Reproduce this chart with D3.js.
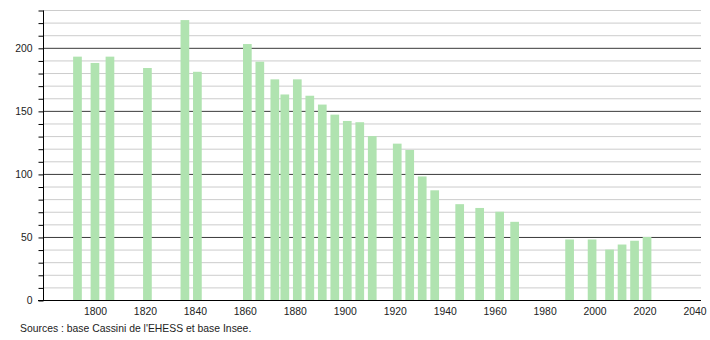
<!DOCTYPE html>
<html>
<head>
<meta charset="utf-8">
<script src="https://cdn.jsdelivr.net/npm/d3@7"></script>
<style>
  body { margin: 0; background: #fff; }
  svg text { font-family: "Liberation Sans", Arial, sans-serif; fill: #222; }
</style>
</head>
<body>
<div id="chart"></div>
<script>
// population by census year
const years = [1793, 1800, 1806, 1821, 1836, 1841, 1861, 1866, 1872, 1876, 1881, 1886,
    1891, 1896, 1901, 1906, 1911, 1921, 1926, 1931, 1936, 1946, 1954, 1962, 1968,
    1990, 1999, 2006, 2011, 2016, 2021];
const population = [193, 188, 193, 184, 222, 181, 203, 189, 175, 163, 175, 162,
    155, 147, 142, 141, 130, 124, 119, 98, 87, 76, 73, 70, 62,
    48, 48, 40, 44, 47, 50];
const xTicks = [1800, 1820, 1840, 1860, 1880, 1900, 1920, 1940, 1960, 1980, 2000, 2020, 2040];
const yMajor = [0, 50, 100, 150, 200];
const sourceText = "Sources : base Cassini de l'EHESS et base Insee.";

const width = 710, height = 340;
const margin = {left: 43, right: 9, top: 10, bottom: 40};
const fontSize = 10.4;

const svg = d3.select('#chart').append('svg')
    .attr('width', width)
    .attr('height', height);

const xScale = d3.scaleLinear()
    .domain([1779.2, 2042.6])
    .range([margin.left, width - margin.right]);
const yScale = d3.scaleLinear()
    .domain([0, 230])
    .range([height - margin.bottom, margin.top]);

const yMinor = d3.range(0, 231, 10);

// gridlines
svg.append('g').selectAll('line')
    .data(yMinor)
    .join('line')
    .attr('x1', margin.left)
    .attr('x2', width - margin.right)
    .attr('y1', d => yScale(d) + 0.5)
    .attr('y2', d => yScale(d) + 0.5)
    .attr('stroke', d => (d % 50 === 0 && d > 0) ? '#3a3a3a' : '#cccccc')
    .attr('stroke-width', 1);

// bars
const barW = 8.7;
svg.append('g').selectAll('rect')
    .data(years)
    .join('rect')
    .attr('x', (d) => xScale(d) - barW / 2)
    .attr('width', barW)
    .attr('y', (d, i) => yScale(population[i]))
    .attr('height', (d, i) => yScale(0) - yScale(population[i]))
    .attr('fill', '#b0e3b0');

// y axis
const yAxis = d3.axisLeft(yScale)
    .tickValues(yMinor)
    .tickSize(5)
    .tickFormat(d => yMajor.includes(d) ? d : '');
const yAxisG = svg.append('g')
    .attr('transform', `translate(${margin.left + 0.5},0.5)`)
    .call(yAxis);
yAxisG.select('.domain').attr('d', `M0,${yScale(230)}V${yScale(0)}`).attr('stroke', '#000');
yAxisG.selectAll('.tick line').attr('stroke', '#000');
yAxisG.selectAll('.tick text').attr('x', -11).attr('font-size', fontSize);

// x axis
const xAxis = d3.axisBottom(xScale)
    .tickValues(xTicks)
    .tickSize(0)
    .tickFormat(d3.format('d'));
const xAxisG = svg.append('g')
    .attr('transform', `translate(0,${yScale(0) + 0.5})`)
    .call(xAxis);
xAxisG.select('.domain').attr('d', `M${margin.left - 5},0H${width - margin.right}`).attr('stroke', '#000');
xAxisG.selectAll('.tick text').attr('y', 7).attr('font-size', fontSize);

// source note
svg.append('text')
    .attr('x', 20)
    .attr('y', 332)
    .attr('font-size', fontSize)
    .text(sourceText);
</script>
</body>
</html>
